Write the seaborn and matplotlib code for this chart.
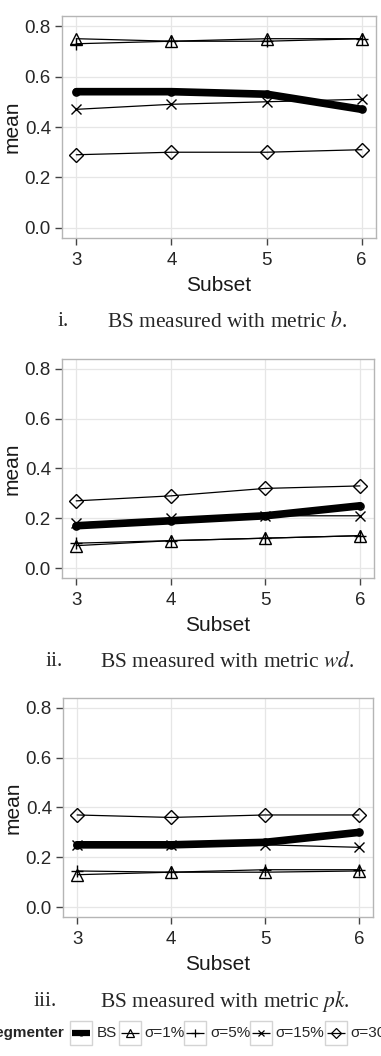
import matplotlib
matplotlib.use("Agg")
import matplotlib.pyplot as plt
from matplotlib.patches import Rectangle
from matplotlib.lines import Line2D
import seaborn as sns

# -----------------------------------------------------------------------------
# Plotting attributes
# -----------------------------------------------------------------------------
sns.set_theme(style="whitegrid")
plt.rcParams["font.family"] = ["Liberation Sans", "DejaVu Sans"]
plt.rcParams["mathtext.fontset"] = "stix"

dpi = 100
tick_fs = 13.5
label_fs = 15
caption_fs = 15.5
legend_fs = 11

# -----------------------------------------------------------------------------
# Data
# -----------------------------------------------------------------------------
subsets = [3, 4, 5, 6]
series = ["BS", "σ=1%", "σ=5%", "σ=15%", "σ=30%"]

# metric b
b_bs = [0.54, 0.54, 0.53, 0.47]
b_s1 = [0.75, 0.74, 0.75, 0.75]
b_s5 = [0.73, 0.74, 0.74, 0.75]
b_s15 = [0.47, 0.49, 0.50, 0.51]
b_s30 = [0.29, 0.30, 0.30, 0.31]

# metric wd
wd_bs = [0.17, 0.19, 0.21, 0.25]
wd_s1 = [0.09, 0.11, 0.12, 0.13]
wd_s5 = [0.10, 0.11, 0.12, 0.13]
wd_s15 = [0.18, 0.20, 0.21, 0.21]
wd_s30 = [0.27, 0.29, 0.32, 0.33]

# metric pk
pk_bs = [0.25, 0.25, 0.26, 0.30]
pk_s1 = [0.13, 0.14, 0.14, 0.145]
pk_s5 = [0.145, 0.14, 0.15, 0.15]
pk_s15 = [0.25, 0.25, 0.25, 0.24]
pk_s30 = [0.37, 0.36, 0.37, 0.37]

yticks = [0.0, 0.2, 0.4, 0.6, 0.8]
ytick_labels = ["0.0", "0.2", "0.4", "0.6", "0.8"]

numerals = ["i.", "ii.", "iii."]
metrics = ["b", "wd", "pk"]

panels = [
    [b_bs, b_s1, b_s5, b_s15, b_s30],
    [wd_bs, wd_s1, wd_s5, wd_s15, wd_s30],
    [pk_bs, pk_s1, pk_s5, pk_s15, pk_s30],
]

# marker / line style per series
styles = {
    "BS": dict(marker="o", ms=5, lw=5.5, mew=1.2, key_lw=4.5),
    "σ=1%": dict(marker="^", ms=8, lw=0.9, mew=1.0, key_lw=0.9),
    "σ=5%": dict(marker="+", ms=9, lw=0.9, mew=1.0, key_lw=0.9),
    "σ=15%": dict(marker="x", ms=7, lw=0.9, mew=1.0, key_lw=0.9),
    "σ=30%": dict(marker="D", ms=7, lw=0.9, mew=1.0, key_lw=0.9),
}

# -----------------------------------------------------------------------------
# Figure
# -----------------------------------------------------------------------------
W, H = 381, 1056
fig = plt.figure(figsize=(W / dpi, H / dpi), dpi=dpi)

# axes boxes in pixels: (left, top, right, bottom)
boxes = [(62, 16, 376, 238), (62, 359, 374, 578), (63, 698, 373, 917)]
caption_y = [322, 662, 1001]
numeral_x = [58, 45, 33]
caption_x = [107, 100, 100]

for k, vals in enumerate(panels):
    l, t, r, b = boxes[k]
    ax = fig.add_axes([l / W, 1 - b / H, (r - l) / W, (b - t) / H])
    for name, y in zip(series, vals):
        st = styles[name]
        sns.lineplot(x=subsets, y=y, ax=ax, color="black", lw=st["lw"],
                     marker=st["marker"], markersize=st["ms"],
                     markerfacecolor="none", markeredgecolor="black",
                     markeredgewidth=st["mew"], errorbar=None, legend=False)
    ax.set(xlim=(2.85, 6.15), ylim=(-0.04, 0.84))
    ax.set_xticks(subsets)
    ax.set_yticks(yticks)
    ax.set_yticklabels(ytick_labels)
    ax.grid(True, color="#e6e6e6", lw=0.9)
    for s in ax.spines.values():
        s.set_visible(True)
        s.set_color("#b5b5b5")
        s.set_linewidth(1.0)
    ax.tick_params(axis="both", direction="out", length=5, width=1,
                   color="#444444", labelsize=tick_fs, labelcolor="#262626",
                   pad=3, bottom=True, left=True)
    ax.tick_params(axis="x", pad=5)
    ax.set_xlabel("Subset", fontsize=label_fs, color="#1a1a1a", labelpad=5)
    ax.set_ylabel("mean", fontsize=label_fs, color="#1a1a1a", labelpad=2)

    # caption
    fig.text(numeral_x[k] / W, 1 - caption_y[k] / H, numerals[k],
             family="Liberation Serif", fontsize=caption_fs, va="center")
    fig.text(caption_x[k] / W, 1 - caption_y[k] / H,
             "BS measured with metric $\\mathit{" + metrics[k] + "}$.",
             family="Liberation Serif", fontsize=caption_fs, va="center")

# -----------------------------------------------------------------------------
# Legend strip (ggplot style keys)
# -----------------------------------------------------------------------------
lax = fig.add_axes([0, 0, 1, 46 / H])
lax.set_xlim(0, W)
lax.set_ylim(H, H - 46)
lax.axis("off")

ly = 1033
key_x = [70, 119, 184, 250, 325]
key_w = 22
text_x = [97, 144, 210, 275, 350]

lax.text(64, ly, "Segmenter", ha="right", va="center", fontsize=legend_fs,
         fontweight="bold")
for name, kx, tx in zip(series, key_x, text_x):
    st = styles[name]
    lax.add_patch(Rectangle((kx, ly - 12), key_w, 24, facecolor="white",
                            edgecolor="#d4d4d4", lw=1.0))
    lax.add_line(Line2D([kx + 2, kx + key_w - 2], [ly, ly], color="black",
                        lw=st["key_lw"], solid_capstyle="butt"))
    lax.add_line(Line2D([kx + key_w / 2], [ly], marker=st["marker"],
                        ms=st["ms"] * 0.7, mfc="none", mec="black",
                        mew=0.9, lw=0))
    lax.text(tx, ly, name, ha="left", va="center", fontsize=legend_fs,
             color="#262626")

plt.savefig("out.png", dpi=dpi)
